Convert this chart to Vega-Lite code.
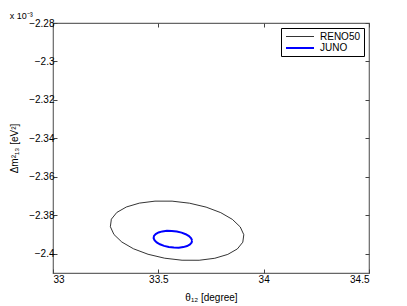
{
  "$schema": "https://vega.github.io/schema/vega-lite/v6.json",
  "autosize": "none",
  "width": 316,
  "height": 250,
  "padding": {"left": 53, "top": 23, "right": 38, "bottom": 33},
  "background": "white",
  "config": {
    "font": "Liberation Sans",
    "view": {"stroke": "#666", "strokeWidth": 1.2},
    "axis": {"grid": false, "domain": false, "tickColor": "#444", "tickSize": -4, "labelFontSize": 10, "labelColor": "black", "titleFontSize": 10, "titleFontWeight": "normal", "titleColor": "black"}
  },
  "title": {"text": "x 10⁻³", "anchor": "start", "fontSize": 9, "fontWeight": "normal", "offset": -3, "dx": 0},
  "data": {"values": [
    {"s":"RENO50","i":0,"x":33.9057,"y":-2.39008},
    {"s":"RENO50","i":1,"x":33.8888,"y":-2.38604},
    {"s":"RENO50","i":2,"x":33.8514,"y":-2.38212},
    {"s":"RENO50","i":3,"x":33.7962,"y":-2.37861},
    {"s":"RENO50","i":4,"x":33.7268,"y":-2.37574},
    {"s":"RENO50","i":5,"x":33.6481,"y":-2.37370},
    {"s":"RENO50","i":6,"x":33.5653,"y":-2.37264},
    {"s":"RENO50","i":7,"x":33.4842,"y":-2.37263},
    {"s":"RENO50","i":8,"x":33.4101,"y":-2.37366},
    {"s":"RENO50","i":9,"x":33.3483,"y":-2.37567},
    {"s":"RENO50","i":10,"x":33.3029,"y":-2.37852},
    {"s":"RENO50","i":11,"x":33.2770,"y":-2.38202},
    {"s":"RENO50","i":12,"x":33.2723,"y":-2.38592},
    {"s":"RENO50","i":13,"x":33.2892,"y":-2.38997},
    {"s":"RENO50","i":14,"x":33.3266,"y":-2.39388},
    {"s":"RENO50","i":15,"x":33.3818,"y":-2.39739},
    {"s":"RENO50","i":16,"x":33.4512,"y":-2.40026},
    {"s":"RENO50","i":17,"x":33.5299,"y":-2.40230},
    {"s":"RENO50","i":18,"x":33.6127,"y":-2.40336},
    {"s":"RENO50","i":19,"x":33.6939,"y":-2.40337},
    {"s":"RENO50","i":20,"x":33.7679,"y":-2.40234},
    {"s":"RENO50","i":21,"x":33.8297,"y":-2.40033},
    {"s":"RENO50","i":22,"x":33.8751,"y":-2.39748},
    {"s":"RENO50","i":23,"x":33.9010,"y":-2.39398},
    {"s":"RENO50","i":24,"x":33.9057,"y":-2.39008},
    {"s":"JUNO","i":0,"x":33.6600,"y":-2.39308},
    {"s":"JUNO","i":1,"x":33.6557,"y":-2.39193},
    {"s":"JUNO","i":2,"x":33.6454,"y":-2.39082},
    {"s":"JUNO","i":3,"x":33.6300,"y":-2.38982},
    {"s":"JUNO","i":4,"x":33.6103,"y":-2.38900},
    {"s":"JUNO","i":5,"x":33.5879,"y":-2.38841},
    {"s":"JUNO","i":6,"x":33.5641,"y":-2.38810},
    {"s":"JUNO","i":7,"x":33.5407,"y":-2.38809},
    {"s":"JUNO","i":8,"x":33.5191,"y":-2.38837},
    {"s":"JUNO","i":9,"x":33.5010,"y":-2.38893},
    {"s":"JUNO","i":10,"x":33.4875,"y":-2.38973},
    {"s":"JUNO","i":11,"x":33.4795,"y":-2.39072},
    {"s":"JUNO","i":12,"x":33.4776,"y":-2.39183},
    {"s":"JUNO","i":13,"x":33.4819,"y":-2.39297},
    {"s":"JUNO","i":14,"x":33.4922,"y":-2.39408},
    {"s":"JUNO","i":15,"x":33.5076,"y":-2.39508},
    {"s":"JUNO","i":16,"x":33.5273,"y":-2.39590},
    {"s":"JUNO","i":17,"x":33.5497,"y":-2.39649},
    {"s":"JUNO","i":18,"x":33.5735,"y":-2.39680},
    {"s":"JUNO","i":19,"x":33.5969,"y":-2.39681},
    {"s":"JUNO","i":20,"x":33.6185,"y":-2.39653},
    {"s":"JUNO","i":21,"x":33.6366,"y":-2.39597},
    {"s":"JUNO","i":22,"x":33.6501,"y":-2.39517},
    {"s":"JUNO","i":23,"x":33.6581,"y":-2.39418},
    {"s":"JUNO","i":24,"x":33.6600,"y":-2.39308}
  ]},
  "layer": [
    {
      "mark": {"type": "line", "clip": true},
      "encoding": {
        "x": {"field": "x", "type": "quantitative", "scale": {"domain": [33, 34.5], "nice": false, "zero": false},
              "axis": {"values": [33, 33.5, 34, 34.5], "format": ".1~f", "title": "θ₁₂ [degree]", "labelPadding": 5, "titlePadding": 8}},
        "y": {"field": "y", "type": "quantitative", "scale": {"domain": [-2.41, -2.28], "nice": false, "zero": false},
              "axis": {"values": [-2.4, -2.38, -2.36, -2.34, -2.32, -2.3, -2.28], "format": ".2~f", "title": "Δm²₁₃ [eV²]", "labelPadding": 3, "titlePadding": 9}},
        "color": {"field": "s", "type": "nominal", "scale": {"domain": ["RENO50", "JUNO"], "range": ["black", "#0000ff"]},
                  "legend": {"title": null, "orient": "top-right", "offset": 5, "symbolType": "M-2.8,0H2.8", "symbolSize": 100, "symbolOffset": 10, "labelFontSize": 10, "labelOffset": 14, "strokeColor": "black", "fillColor": "white", "padding": 3, "rowPadding": 0}},
        "strokeWidth": {"field": "s", "type": "nominal", "scale": {"domain": ["RENO50", "JUNO"], "range": [0.8, 2]}, "legend": null},
        "order": {"field": "i", "type": "quantitative"}
      }
    },
    {
      "mark": {"type": "point", "opacity": 0},
      "encoding": {
        "x": {"field": "x", "type": "quantitative", "axis": {"orient": "top", "values": [33, 33.5, 34, 34.5], "labels": false, "title": null}},
        "y": {"field": "y", "type": "quantitative", "axis": {"orient": "right", "values": [-2.4, -2.38, -2.36, -2.34, -2.32, -2.3, -2.28], "labels": false, "title": null}}
      }
    }
  ],
  "resolve": {"axis": {"x": "independent", "y": "independent"}}
}
